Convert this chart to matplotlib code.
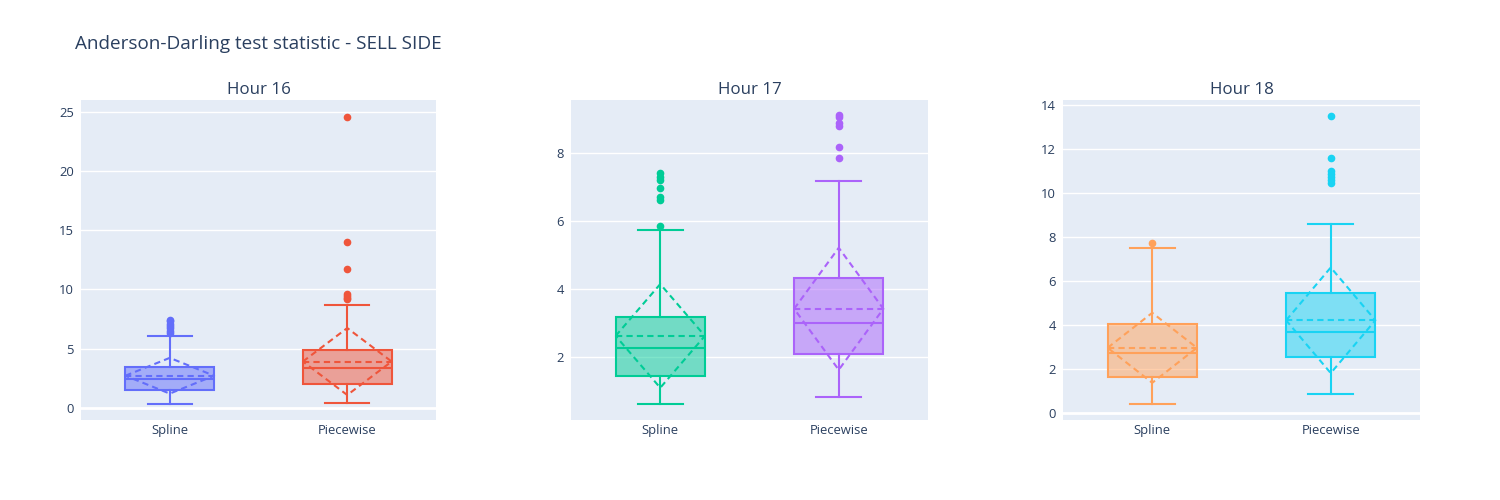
import matplotlib
matplotlib.use('Agg')
import matplotlib.pyplot as plt

plt.rcParams['font.family'] = ['Open Sans', 'DejaVu Sans']

# Werte
hours = ['Hour 16', 'Hour 17', 'Hour 18']
methods = ['Spline', 'Piecewise']
q1 = [[1.52, 2.03], [1.44, 2.09], [1.67, 2.58]]
median = [[2.39, 3.36], [2.24, 3.00], [2.76, 3.70]]
q3 = [[3.40, 4.89], [3.17, 4.33], [4.05, 5.47]]
whislo = [[0.28, 0.42], [0.61, 0.80], [0.44, 0.88]]
whishi = [[6.08, 8.67], [5.73, 7.19], [7.53, 8.59]]
mean = [[2.70, 3.90], [2.61, 3.41], [2.98, 4.23]]
sd = [[1.51, 2.83], [1.53, 1.80], [1.59, 2.40]]
outliers = [
    [[6.3, 6.5, 6.7, 6.9, 7.1, 7.3, 7.4], [9.15, 9.3, 9.45, 9.6, 11.7, 14.0, 24.6]],
    [[5.86, 6.62, 6.72, 6.96, 7.21, 7.31, 7.41], [7.86, 8.19, 8.79, 8.88, 9.08, 9.13]],
    [[7.74], [10.45, 10.6, 10.75, 10.9, 11.0, 11.6, 13.51]],
]
colors = [['#636efa', '#EF553B'], ['#00cc96', '#ab63fa'], ['#FFA15A', '#19d3f3']]
ylims = [(-1.04, 26.0), (0.13, 9.57), (-0.3, 14.24)]
yticks = [range(0, 26, 5), range(2, 9, 2), range(0, 15, 2)]

txt = '#2a3f5f'
fig = plt.figure(figsize=(15, 5), dpi=100)
fig.text(75 / 1500, 1 - 44 / 500, 'Anderson-Darling test statistic - SELL SIDE',
         fontsize=13.6, color=txt, va='center', ha='left')

lefts = [81, 571, 1063]
widths = [355, 357, 357]
bw = 0.5

for i in range(3):
    ax = fig.add_axes([lefts[i] / 1500, 0.16, widths[i] / 1500, 0.64])
    ax.set_facecolor('#E5ECF6')
    for s in ax.spines.values():
        s.set_visible(False)
    ax.set_axisbelow(True)
    ax.grid(axis='y', color='white', linewidth=1)
    ax.axhline(0, color='white', linewidth=2, zorder=0.5)
    for j in range(2):
        c = colors[i][j]
        st = [dict(med=median[i][j], q1=q1[i][j], q3=q3[i][j],
                   whislo=whislo[i][j], whishi=whishi[i][j],
                   fliers=outliers[i][j], mean=mean[i][j])]
        ax.bxp(st, positions=[j], widths=bw, patch_artist=True, showmeans=False,
               boxprops=dict(facecolor=c + '80', edgecolor=c, linewidth=1.5),
               medianprops=dict(color=c, linewidth=1.5),
               whiskerprops=dict(color=c, linewidth=1.5),
               capprops=dict(color=c, linewidth=1.5),
               flierprops=dict(marker='o', markerfacecolor=c, markeredgecolor=c,
                               markersize=4.5, linestyle='none'),
               capwidths=bw / 2)
        m, s = mean[i][j], sd[i][j]
        ax.plot([j - bw / 2, j + bw / 2], [m, m], color=c, linewidth=1.5,
                linestyle=(0, (3, 2)))
        ax.plot([j - bw / 2, j, j + bw / 2, j, j - bw / 2], [m, m + s, m, m - s, m],
                color=c, linewidth=1.5, linestyle=(0, (3, 2)))
    ax.set_xlim(-0.5, 1.5)
    ax.set_ylim(*ylims[i])
    ax.set_yticks(list(yticks[i]))
    ax.set_xticks([0, 1])
    ax.set_xticklabels(methods)
    ax.tick_params(length=0, labelsize=9.4, labelcolor=txt)
    ax.tick_params(axis='x', pad=3)
    ax.tick_params(axis='y', pad=5)
    ax.set_title(hours[i], fontsize=12.2, color=txt, pad=4)

fig.savefig('out.png', dpi=100)
